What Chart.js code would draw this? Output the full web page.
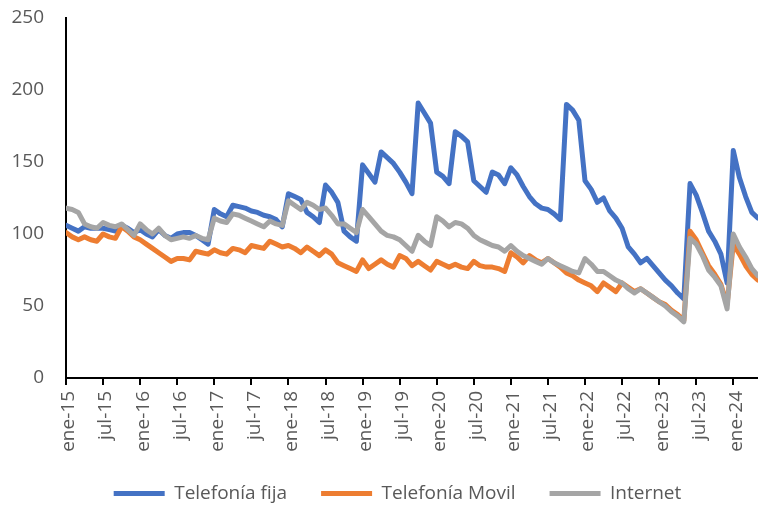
<!DOCTYPE html>
<html><head><meta charset="utf-8">
<script src="https://cdn.jsdelivr.net/npm/chart.js@4/dist/chart.umd.min.js"></script>
<style>html,body{margin:0;padding:0;background:#fff;overflow:hidden}</style>
</head><body>
<canvas id="c" width="758" height="506"></canvas>
<script>
// ---- categories (monthly, ene-15 .. may-24) ----
const monthNames = ['ene','feb','mar','abr','may','jun','jul','ago','sep','oct','nov','dic'];
const months = [];
for (let k = 0; k < 113; k++) months.push(monthNames[k % 12] + '-' + (15 + Math.floor(k / 12)));
const monthIndex = months.map((_, i) => i);

// ---- series ----
const telefoniaFija = [
  106,104,102,105,104,104,104,103,102,106,104,101,
  103,100,98,103,99,97,100,101,101,99,96,93,
  117,114,112,120,119,118,116,115,113,112,110,105,
  128,126,124,115,112,108,134,129,122,102,98,95,
  148,142,136,157,153,149,143,136,128,191,184,177,
  143,140,135,171,168,164,137,133,129,143,141,135,
  146,141,133,126,121,118,117,114,110,190,186,179,
  137,131,122,125,116,111,104,91,86,80,83,78,
  73,68,64,59,55,135,127,115,102,95,86,66,
  158,139,126,115,111
];
const telefoniaMovil = [
  101,98,96,98,96,95,100,98,97,105,102,98,
  96,93,90,87,84,81,83,83,82,88,87,86,
  89,87,86,90,89,87,92,91,90,95,93,91,
  92,90,87,91,88,85,89,86,80,78,76,74,
  82,76,79,82,79,77,85,83,78,81,78,75,
  81,79,77,79,77,76,81,78,77,77,76,74,
  87,84,80,85,82,80,83,80,77,73,71,68,
  66,64,60,66,63,60,66,63,60,62,59,56,
  53,51,47,44,40,102,96,87,78,72,65,51,
  93,86,78,72,68
];
const internet = [
  118,117,115,107,105,104,108,106,105,107,103,99,
  107,103,100,104,99,96,97,98,97,99,97,96,
  111,109,108,114,113,111,109,107,105,109,107,106,
  123,120,117,122,120,117,118,113,107,107,104,101,
  117,112,107,102,99,98,96,92,88,99,95,92,
  112,109,105,108,107,104,99,96,94,92,91,88,
  92,88,85,83,81,79,83,80,78,76,74,73,
  83,79,74,74,71,68,66,62,59,62,59,56,
  53,50,46,43,39,97,93,85,75,70,64,48,
  100,91,84,76,71
];
const yTicks = [0, 50, 100, 150, 200, 250];

const FONT = "'Open Sans', sans-serif";
const TXT = '#595959';
const FS = 19;

const legendShift = {
  id: 'legendShift',
  beforeLayout(chart) {
    const lg = chart.legend;
    if (lg && !lg._patched) {
      const f = lg.fit.bind(lg);
      lg.fit = function () { f(); this.height = 28; };
      lg._patched = true;
    }
  },
  afterLayout(chart) {
    const lg = chart.legend;
    if (!lg) return;
    lg.top = 450; lg.bottom = 506;
    lg.left = 37; lg.right = 758;
  }
};

new Chart(document.getElementById('c'), {
  type: 'line',
  data: {
    labels: monthIndex,
    datasets: [
      { label: 'Telefonía fija', data: telefoniaFija, borderColor: '#4472C4', backgroundColor: '#4472C4', order: 2 },
      { label: 'Telefonía Movil', data: telefoniaMovil, borderColor: '#ED7D31', backgroundColor: '#ED7D31', order: 1 },
      { label: 'Internet', data: internet, borderColor: '#A5A5A5', backgroundColor: '#A5A5A5', order: 0 }
    ].map(d => Object.assign(d, { borderWidth: 5, pointRadius: 0, tension: 0, fill: false, borderJoinStyle: 'round', borderCapStyle: 'round' }))
  },
  plugins: [legendShift],
  options: {
    responsive: false,
    animation: false,
    devicePixelRatio: 1,
    layout: { padding: { top: 18, right: 0, bottom: 0, left: 0 } },
    plugins: {
      tooltip: { enabled: false },
      legend: {
        position: 'bottom',
        labels: {
          usePointStyle: true, pointStyle: 'line', pointStyleWidth: 51,
          padding: 34, color: TXT, font: { family: FONT, size: FS },
          sort: (a, b) => a.datasetIndex - b.datasetIndex
        }
      }
    },
    scales: {
      x: {
        type: 'linear', bounds: 'data', min: 0, max: 112,
        afterFit: s => { s.height = 100; s.paddingLeft = 0; s.paddingRight = 0; },
        border: { display: true, color: '#000', width: 2 },
        grid: { display: true, drawOnChartArea: false, drawTicks: true, tickLength: 7, color: '#000', lineWidth: 2 },
        ticks: {
          stepSize: 6, includeBounds: false, maxTicksLimit: 40, autoSkip: false,
          minRotation: 90, maxRotation: 90, padding: 6, labelOffset: 3,
          color: TXT, font: { family: FONT, size: FS },
          callback: v => (v % 6 === 0 && v <= 108) ? months[v] : null
        }
      },
      y: {
        min: 0, max: 250,
        afterFit: s => { s.width = 66; s.paddingTop = 0; s.paddingBottom = 0; },
        afterBuildTicks: s => { s.ticks = yTicks.map(v => ({ value: v })); },
        border: { display: true, color: '#000', width: 2 },
        grid: { display: false, drawTicks: false },
        ticks: { padding: 22, color: TXT, font: { family: FONT, size: FS } }
      }
    }
  }
});
</script>
</body></html>
